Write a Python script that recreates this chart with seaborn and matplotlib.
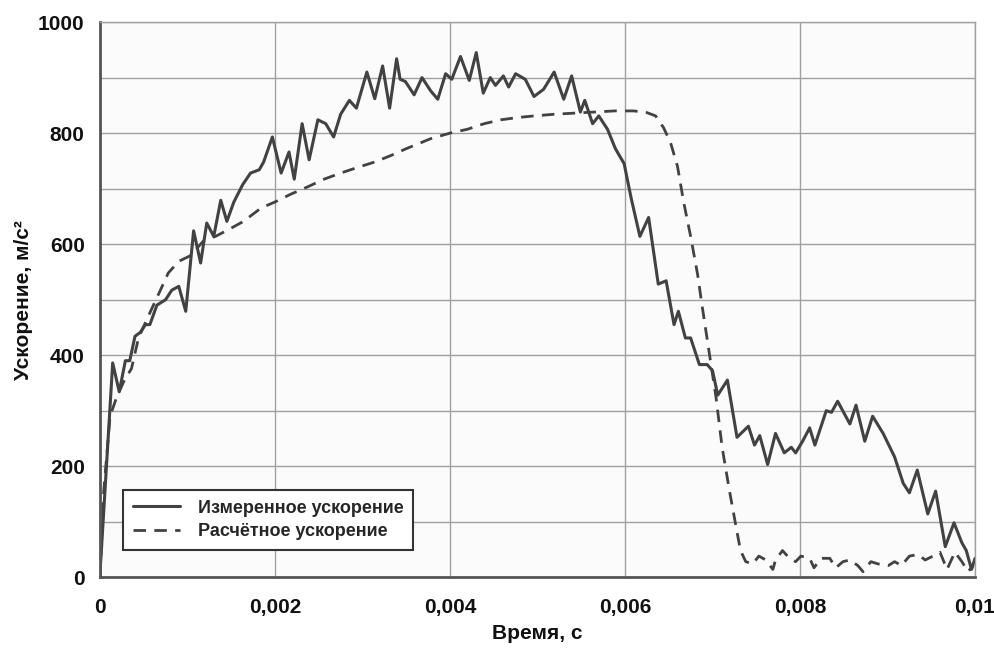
#!/usr/bin/env python3
"""
Измеренное и расчётное ускорение во времени
"""

import matplotlib
matplotlib.use("Agg")
import matplotlib.pyplot as plt
import seaborn as sns
from matplotlib.ticker import MultipleLocator

# --- данные ---
t_meas = [0, 0.000145, 0.00022, 0.00029, 0.00034, 0.0004, 0.00046, 0.00052, 0.00057,
          0.00065, 0.00075, 0.00082, 0.0009, 0.00098, 0.00107, 0.00115, 0.00122, 0.0013,
          0.00138, 0.00145, 0.00153, 0.00163, 0.00172, 0.00182, 0.00187, 0.00197, 0.00207,
          0.00216, 0.00222, 0.00231, 0.00239, 0.00249, 0.00258, 0.00267, 0.00275, 0.00285,
          0.00293, 0.00305, 0.00314, 0.00323, 0.00331, 0.00339, 0.00343, 0.00349, 0.00359,
          0.00368, 0.00378, 0.00386, 0.00395, 0.00402, 0.00412, 0.00422, 0.0043, 0.00438,
          0.00446, 0.00452, 0.00461, 0.00467, 0.00475, 0.00486, 0.00496, 0.00507, 0.00519,
          0.0053, 0.00539, 0.00549, 0.00554, 0.00563, 0.0057, 0.0058, 0.00589, 0.00599,
          0.00607, 0.00617, 0.00627, 0.00638, 0.00647, 0.00656, 0.00661, 0.00669, 0.00675,
          0.00685, 0.00694, 0.007, 0.00706, 0.00717, 0.00728, 0.00741, 0.00748, 0.00754,
          0.00763, 0.00772, 0.00782, 0.0079, 0.00795, 0.00803, 0.00811, 0.00817, 0.0083,
          0.00836, 0.00843, 0.00857, 0.00864, 0.00874, 0.00883, 0.00895, 0.00908, 0.00918,
          0.00925, 0.00934, 0.00946, 0.00955, 0.00966, 0.00976, 0.00985, 0.0099, 0.00996, 0.01]
a_meas = [7, 386, 334, 390, 390, 434, 441, 455, 455,
          490, 500, 517, 524, 479, 624, 566, 638, 614,
          679, 641, 676, 707, 728, 734, 748, 793, 728,
          766, 717, 817, 752, 824, 817, 793, 834, 859,
          845, 910, 862, 921, 845, 934, 897, 893, 869,
          900, 876, 861, 907, 897, 938, 895, 945, 872,
          900, 886, 903, 883, 907, 897, 866, 879, 910,
          861, 903, 838, 859, 817, 831, 807, 772, 745,
          683, 614, 648, 528, 534, 455, 479, 431, 431,
          383, 383, 372, 328, 355, 252, 272, 238, 255,
          203, 259, 224, 234, 224, 245, 269, 238, 300,
          297, 317, 276, 310, 245, 290, 259, 217, 169,
          152, 193, 114, 155, 55, 98, 62, 48, 14, 34]

t_calc = [0, 0.00004, 0.000115, 0.00019, 0.00027, 0.00036, 0.00044, 0.00052, 0.00061,
          0.00069, 0.00078, 0.0009, 0.00103, 0.00119, 0.00132, 0.00149, 0.00164, 0.00184,
          0.002, 0.00218, 0.00237, 0.00256, 0.00275, 0.00294, 0.00314, 0.00333, 0.0035,
          0.00378, 0.004, 0.0042, 0.00439, 0.00458, 0.00477, 0.00496, 0.00519, 0.00542,
          0.00565, 0.00588, 0.0061, 0.00625, 0.00635, 0.00644, 0.00652, 0.0066, 0.00667,
          0.00675, 0.00683, 0.00688, 0.00696, 0.00704, 0.00711, 0.00719, 0.00727, 0.00732,
          0.00738, 0.00746, 0.00753, 0.00761, 0.00769, 0.00772, 0.0078, 0.00788, 0.00795,
          0.00801, 0.00811, 0.00816, 0.00824, 0.00834, 0.00841, 0.00849, 0.00857, 0.00866,
          0.00872, 0.00881, 0.00889, 0.00901, 0.00908, 0.00916, 0.00925, 0.00935, 0.00943,
          0.00952, 0.0096, 0.00968, 0.00977, 0.00985, 0.00992, 0.00998]
a_calc = [0, 150, 290, 324, 352, 376, 431, 459, 490,
          517, 548, 569, 579, 607, 614, 628, 641, 665,
          676, 690, 703, 717, 728, 738, 748, 760, 772,
          790, 800, 807, 817, 824, 828, 831, 834, 836,
          838, 840, 840, 837, 831, 810, 783, 740, 676,
          614, 545, 490, 407, 324, 234, 159, 90, 48,
          28, 24, 38, 31, 14, 31, 48, 34, 28,
          38, 34, 17, 34, 34, 17, 28, 31, 21,
          10, 28, 24, 21, 28, 21, 38, 41, 31,
          38, 45, 14, 45, 28, 10, 21]

x_ticks = [0, 0.002, 0.004, 0.006, 0.008, 0.01]
x_tick_labels = ["0", "0,002", "0,004", "0,006", "0,008", "0,01"]
y_ticks = [0, 200, 400, 600, 800, 1000]
y_tick_labels = ["0", "200", "400", "600", "800", "1000"]

series_names = ["Измеренное ускорение", "Расчётное ускорение"]

sns.set_style("white")
plt.rcParams['font.family'] = ['Liberation Sans', 'DejaVu Sans']
plt.rcParams['font.weight'] = 'bold'

line_col = "#424242"
grid_col = "#a0a0a0"

fig = plt.figure(figsize=(9.94, 6.5), dpi=100)
ax = fig.add_axes([0.1006, 0.112, 0.8803, 0.854])
ax.set_facecolor("#fbfbfb")
fig.patch.set_facecolor("white")

sns.lineplot(x=t_meas, y=a_meas, ax=ax, color=line_col, lw=2.2,
             label=series_names[0], sort=False)
sns.lineplot(x=t_calc, y=a_calc, ax=ax, color=line_col, lw=2.0,
             label=series_names[1], sort=False, dashes=False)
ax.lines[1].set_linestyle((0, (4.5, 3)))
for ln in ax.lines:
    ln.set_solid_joinstyle("round")
    ln.set_dash_joinstyle("round")

ax.set_xlim(0, 0.01)
ax.set_ylim(0, 1000)
ax.set_xticks(x_ticks)
ax.set_xticklabels(x_tick_labels)
ax.set_yticks(y_ticks)
ax.set_yticklabels(y_tick_labels)
ax.yaxis.set_minor_locator(MultipleLocator(100))

ax.grid(True, which="major", color=grid_col, lw=1.0)
ax.grid(True, which="minor", axis="y", color=grid_col, lw=1.0)
ax.set_axisbelow(True)

ax.tick_params(axis="both", which="both", direction="out", length=5, width=1.2,
               color="#555555", labelsize=15, labelcolor="#111111")
ax.tick_params(axis="x", pad=10)
ax.tick_params(axis="y", pad=6)

for side in ["left", "bottom"]:
    ax.spines[side].set_color("#555555")
    ax.spines[side].set_linewidth(2)
for side in ["top", "right"]:
    ax.spines[side].set_color(grid_col)
    ax.spines[side].set_linewidth(1)

ax.set_xlabel("Время, с", fontsize=15, fontweight="bold", color="#111111", labelpad=5)
ax.set_ylabel("Ускорение, м/с²", fontsize=15, fontweight="bold", color="#111111", labelpad=4)

leg = ax.legend(loc="lower left", bbox_to_anchor=(0.026, 0.049), borderaxespad=0,
                fontsize=13, frameon=True, fancybox=False, framealpha=1,
                edgecolor="#333333", handlelength=2.6, borderpad=0.55,
                labelspacing=0.35, handletextpad=1.0)
leg.get_frame().set_linewidth(1.5)
leg.get_frame().set_facecolor("white")
for txt in leg.get_texts():
    txt.set_fontweight("bold")

plt.savefig("out.png", dpi=100)
plt.close()
